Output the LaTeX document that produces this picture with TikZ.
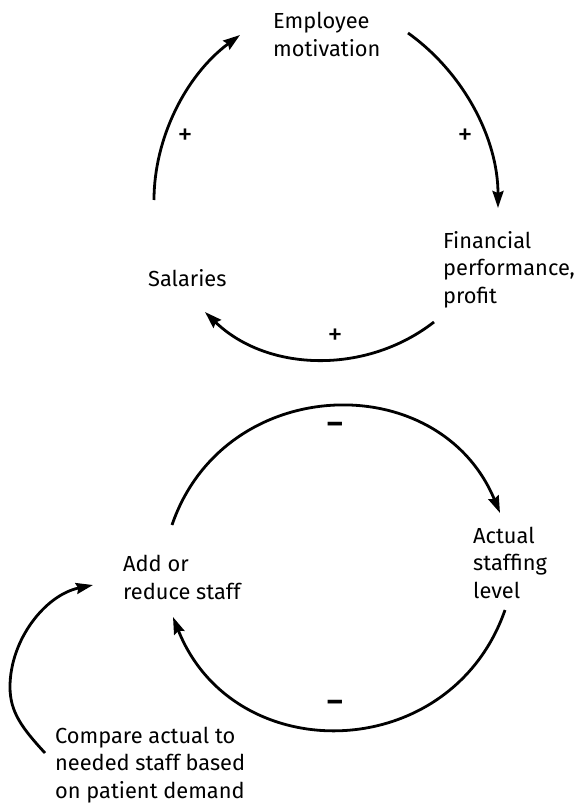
\documentclass[tikz,border=0pt]{standalone}
\usepackage{fontspec}
\setmainfont{Fira Sans}
\usetikzlibrary{arrows.meta}
\begin{document}
\begin{tikzpicture}[x=1pt,y=-1pt,
  lbl/.style={anchor=base west,inner sep=0pt,align=left,font=\fontsize{21.8}{27.5}\selectfont},
  sgn/.style={inner sep=0pt,font=\fontsize{30}{32}\selectfont},
  link/.style={line width=2.8pt,-{Stealth[length=17pt,width=11pt,inset=2pt]}}]
\useasboundingbox (0,0) rectangle (578,809);
% texts (anchored at the baseline of the last line)
\node[lbl] (emp) at (273,56) {Employee\\motivation};
\node[lbl] (fin) at (443,303) {Financial\\performance,\\profit};
\node[lbl] (sal) at (148,286) {Salaries};
\node[lbl] (act) at (473,598) {Actual\\staffing\\level};
\node[lbl] (add) at (123,599) {Add or\\reduce staff};
\node[lbl] (cmp) at (55,798) {Compare actual to\\needed staff based\\on patient demand};
% signs
\node[sgn] (p1) at (185,137) {+};
\node[sgn] (p2) at (465,137) {+};
\node[sgn] (p3) at (335,337) {+};
\node[sgn] (m1) at (335,428) {\bfseries –};
\node[sgn] (m2) at (335,706) {\bfseries –};
% connector end points
\coordinate (salT) at (154,200);
\coordinate (empL) at (240,35);
\coordinate (empR) at (408,33);
\coordinate (finT) at (498,208);
\coordinate (finB) at (434,322);
\coordinate (salB) at (205,312);
\coordinate (addT) at (172,525);
\coordinate (actT) at (500,513);
\coordinate (actB) at (505,610);
\coordinate (addB) at (173,617);
\coordinate (cmpL) at (45,753);
\coordinate (addL) at (93,585);
% connectors
\draw[link] (salT) .. controls (154,138) and (186,75) .. (empL);
\draw[link] (empR) .. controls (464,73) and (498,139) .. (finT);
\draw[link] (finB) .. controls (366,375) and (267,372) .. (salB);
\draw[link] (addT) .. controls (224,373) and (439,366) .. (actT);
\draw[link] (actB) .. controls (451,765) and (234,770) .. (addB);
\draw[link] (cmpL) .. controls (22,728) and (10,712) .. (10,687) .. controls (10,640) and (45,595) .. (addL);
\end{tikzpicture}
\end{document}
